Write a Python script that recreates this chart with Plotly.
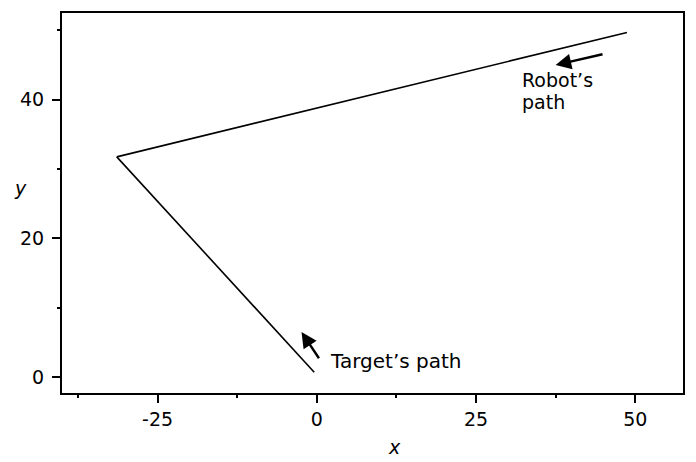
import plotly.graph_objects as go

# Path data
robot_x = [48.7, -31.4]
robot_y = [49.7, 31.75]
target_x = [-31.4, -0.4]
target_y = [31.75, 0.7]

x_ticks = [-25, 0, 25, 50]
x_labels = ["-25", "0", "25", "50"]
y_ticks = [0, 20, 40]
y_labels = ["0", "20", "40"]

FONT = "DejaVu Sans"

fig = go.Figure()
fig.add_trace(go.Scatter(x=robot_x, y=robot_y, mode="lines",
                         line=dict(color="black", width=1.6), showlegend=False,
                         hoverinfo="skip"))
fig.add_trace(go.Scatter(x=target_x, y=target_y, mode="lines",
                         line=dict(color="black", width=1.6), showlegend=False,
                         hoverinfo="skip"))

# Arrows
fig.add_annotation(x=37.5, y=45.0, ax=45.1, ay=46.6, axref="x", ayref="y",
                   xref="x", yref="y", showarrow=True, arrowhead=2,
                   arrowsize=1.3, arrowwidth=2.4, arrowcolor="black", text="")
fig.add_annotation(x=-2.4, y=6.5, ax=0.5, ay=2.5, axref="x", ayref="y",
                   xref="x", yref="y", showarrow=True, arrowhead=2,
                   arrowsize=1.3, arrowwidth=2.4, arrowcolor="black", text="")

# Labels
lab_font = dict(family=FONT, size=20, color="black")
rob_font = dict(family=FONT, size=19, color="black")
fig.add_annotation(x=32.0, y=42.9, xref="x", yref="y", text="Robot’s",
                   showarrow=False, xanchor="left", yanchor="middle",
                   borderpad=0, font=rob_font)
fig.add_annotation(x=32.0, y=39.6, xref="x", yref="y", text="path",
                   showarrow=False, xanchor="left", yanchor="middle",
                   borderpad=0, font=rob_font)
fig.add_annotation(x=1.8, y=2.3, xref="x", yref="y", text="Target’s path",
                   showarrow=False, xanchor="left", yanchor="middle", font=lab_font)

W, H = 696, 462
L, R, T, B = 62, 12, 11, 69
pw, ph = W - L - R, H - T - B

# Axis titles (pixel positions converted to paper coords)
fig.add_annotation(x=(395 - L) / pw, y=(H - B - 447) / ph, xref="paper", yref="paper",
                   xanchor="center", yanchor="middle",
                   text="<i>x</i>", showarrow=False,
                   font=dict(family=FONT, size=19, color="black"))
fig.add_annotation(x=(20 - L) / pw, y=(H - B - 187) / ph, xref="paper", yref="paper",
                   xanchor="center", yanchor="middle",
                   text="<i>y</i>", showarrow=False,
                   font=dict(family=FONT, size=19, color="black"))

fig.update_layout(
    width=W, height=H,
    margin=dict(l=L, r=R, t=T, b=B),
    plot_bgcolor="white", paper_bgcolor="white",
    font=dict(family=FONT, size=19, color="black"),
    xaxis=dict(range=[-40, 57.5], tickvals=x_ticks, ticktext=x_labels,
               ticks="outside", ticklen=8,
               tickwidth=1.5, tickcolor="black", showgrid=False, zeroline=False,
               showline=True, linewidth=2, linecolor="black", mirror=True,
               minor=dict(tickvals=[-37.5, -12.5, 12.5, 37.5], ticks="outside",
                          ticklen=3, tickwidth=1.5, tickcolor="black")),
    yaxis=dict(range=[-2.3, 52.5], tickvals=y_ticks, ticktext=y_labels,
               ticks="outside", ticklen=8, ticklabelstandoff=4,
               tickwidth=1.5, tickcolor="black", showgrid=False, zeroline=False,
               showline=True, linewidth=2, linecolor="black", mirror=True,
               minor=dict(tickvals=[10, 30, 50], ticks="outside",
                          ticklen=3, tickwidth=1.5, tickcolor="black")),
)

fig.write_html("out.html", config={"displayModeBar": False})
with open("out.html", encoding="utf-8") as f:
    html = f.read()
html = html.replace("<body>", '<body style="margin:0">', 1)
with open("out.html", "w", encoding="utf-8") as f:
    f.write(html)
